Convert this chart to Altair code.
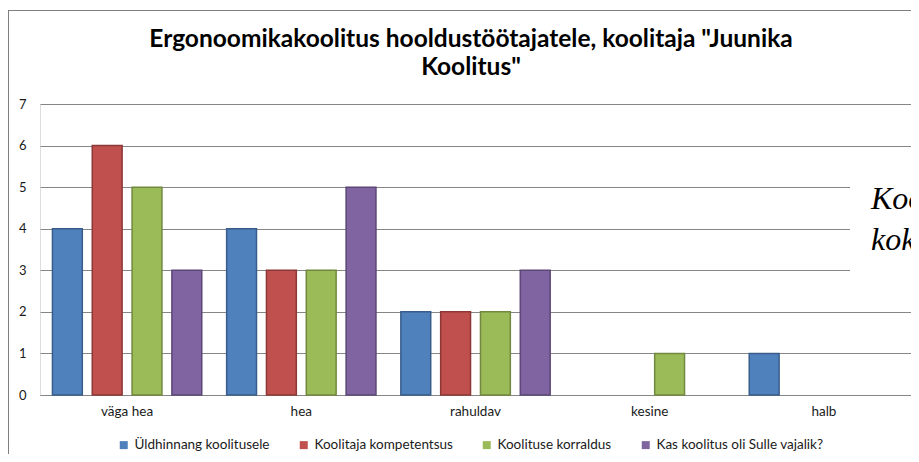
import altair as alt
import pandas as pd

categories = ["väga hea", "hea", "rahuldav", "kesine", "halb"]
series = ["Üldhinnang koolitusele", "Koolitaja kompetentsus", "Koolituse korraldus", "Kas koolitus oli Sulle vajalik?"]
v_uldhinnang = [4, 4, 2, 0, 1]
v_kompetentsus = [6, 3, 2, 0, 0]
v_korraldus = [5, 3, 2, 1, 0]
v_vajalik = [3, 5, 3, 0, 0]
colors = ["#4F81BD", "#C0504D", "#9BBB59", "#8064A2"]
strokes = ["#385D8A", "#8C3836", "#71893F", "#5C4776"]
title_lines = ["Ergonoomikakoolitus hooldustöötajatele, koolitaja \"Juunika", "Koolitus\""]
side_text = ["Koo", "kok"]

rows = []
for s, vals in zip(series, [v_uldhinnang, v_kompetentsus, v_korraldus, v_vajalik]):
    for c, v in zip(categories, vals):
        rows.append({"kategooria": c, "seeria": s, "vaartus": v})
df = pd.DataFrame(rows)

W, H = 871, 291
FONT = "Lato"

bars = alt.Chart(df).transform_filter("datum.vaartus > 0").mark_bar(strokeWidth=1.5).encode(
    x=alt.X("kategooria:N", sort=categories, title=None,
            scale=alt.Scale(paddingInner=0, paddingOuter=0),
            axis=alt.Axis(labelAngle=0, ticks=False, domain=True, domainColor="#868686",
                          labelFont=FONT, labelFontSize=13.5, labelColor="#1a1a1a", labelPadding=9)),
    xOffset=alt.XOffset("seeria:N", sort=series,
                        scale=alt.Scale(paddingInner=0.25, paddingOuter=0.3125)),
    y=alt.Y("vaartus:Q", title=None,
            scale=alt.Scale(domain=[0, 7], nice=False),
            axis=alt.Axis(values=[0, 1, 2, 3, 4, 5, 6, 7], ticks=False, domain=False,
                          grid=True, gridColor="#868686", gridWidth=1,
                          labelFont=FONT, labelFontSize=13, labelColor="#1a1a1a", labelPadding=14)),
    color=alt.Color("seeria:N", sort=series, scale=alt.Scale(domain=series, range=colors),
                    legend=alt.Legend(title=None, orient="none", direction="horizontal",
                                      legendX=77, legendY=334, padding=0,
                                      symbolType="square", symbolSize=64, symbolStrokeWidth=0,
                                      labelFont=FONT, labelFontSize=13.5, labelColor="#1a1a1a",
                                      labelOffset=4, columnPadding=27, labelLimit=400)),
    stroke=alt.Stroke("seeria:N", sort=series, scale=alt.Scale(domain=series, range=strokes), legend=None),
)

frame_top = alt.Chart(pd.DataFrame({"k": [0]})).mark_rule(color="#7f7f7f", strokeWidth=1).encode(
    x=alt.value(-32), x2=alt.value(W), y=alt.value(-93.5))
frame_left = alt.Chart(pd.DataFrame({"k": [0]})).mark_rule(color="#7f7f7f", strokeWidth=1).encode(
    x=alt.value(-31.5), y=alt.value(-93.5), y2=alt.value(H + 60))

cover = alt.Chart(pd.DataFrame({"k": [0]})).mark_rect(color="white").encode(
    x=alt.value(810), x2=alt.value(W + 10), y=alt.value(68), y2=alt.value(184))

side_df = pd.DataFrame({"t": side_text, "yy": [105, 146]})
side = alt.Chart(side_df).mark_text(font="Liberation Serif", fontStyle="italic", fontSize=32,
                                    align="left", baseline="alphabetic", color="#000000").encode(
    text="t:N", x=alt.value(831), y=alt.Y("yy:Q", scale=None))

title_df = pd.DataFrame({"t": title_lines, "yy": [-57, -29]})
title = alt.Chart(title_df).mark_text(font=FONT, fontSize=24.5, fontWeight="bold", color="#000000",
                                      align="center", baseline="alphabetic").encode(
    text="t:N", x=alt.value(431), y=alt.Y("yy:Q", scale=None))

chart = alt.layer(bars, cover, side, title, frame_top, frame_left).properties(
    width=W, height=H,
    autosize=alt.AutoSizeParams(type="none"),
    padding={"left": 32, "top": 96, "right": 0, "bottom": 59},
).configure_view(stroke=None).configure(background="white")

chart.save("out.html", embed_options={"renderer": "svg", "actions": False})
